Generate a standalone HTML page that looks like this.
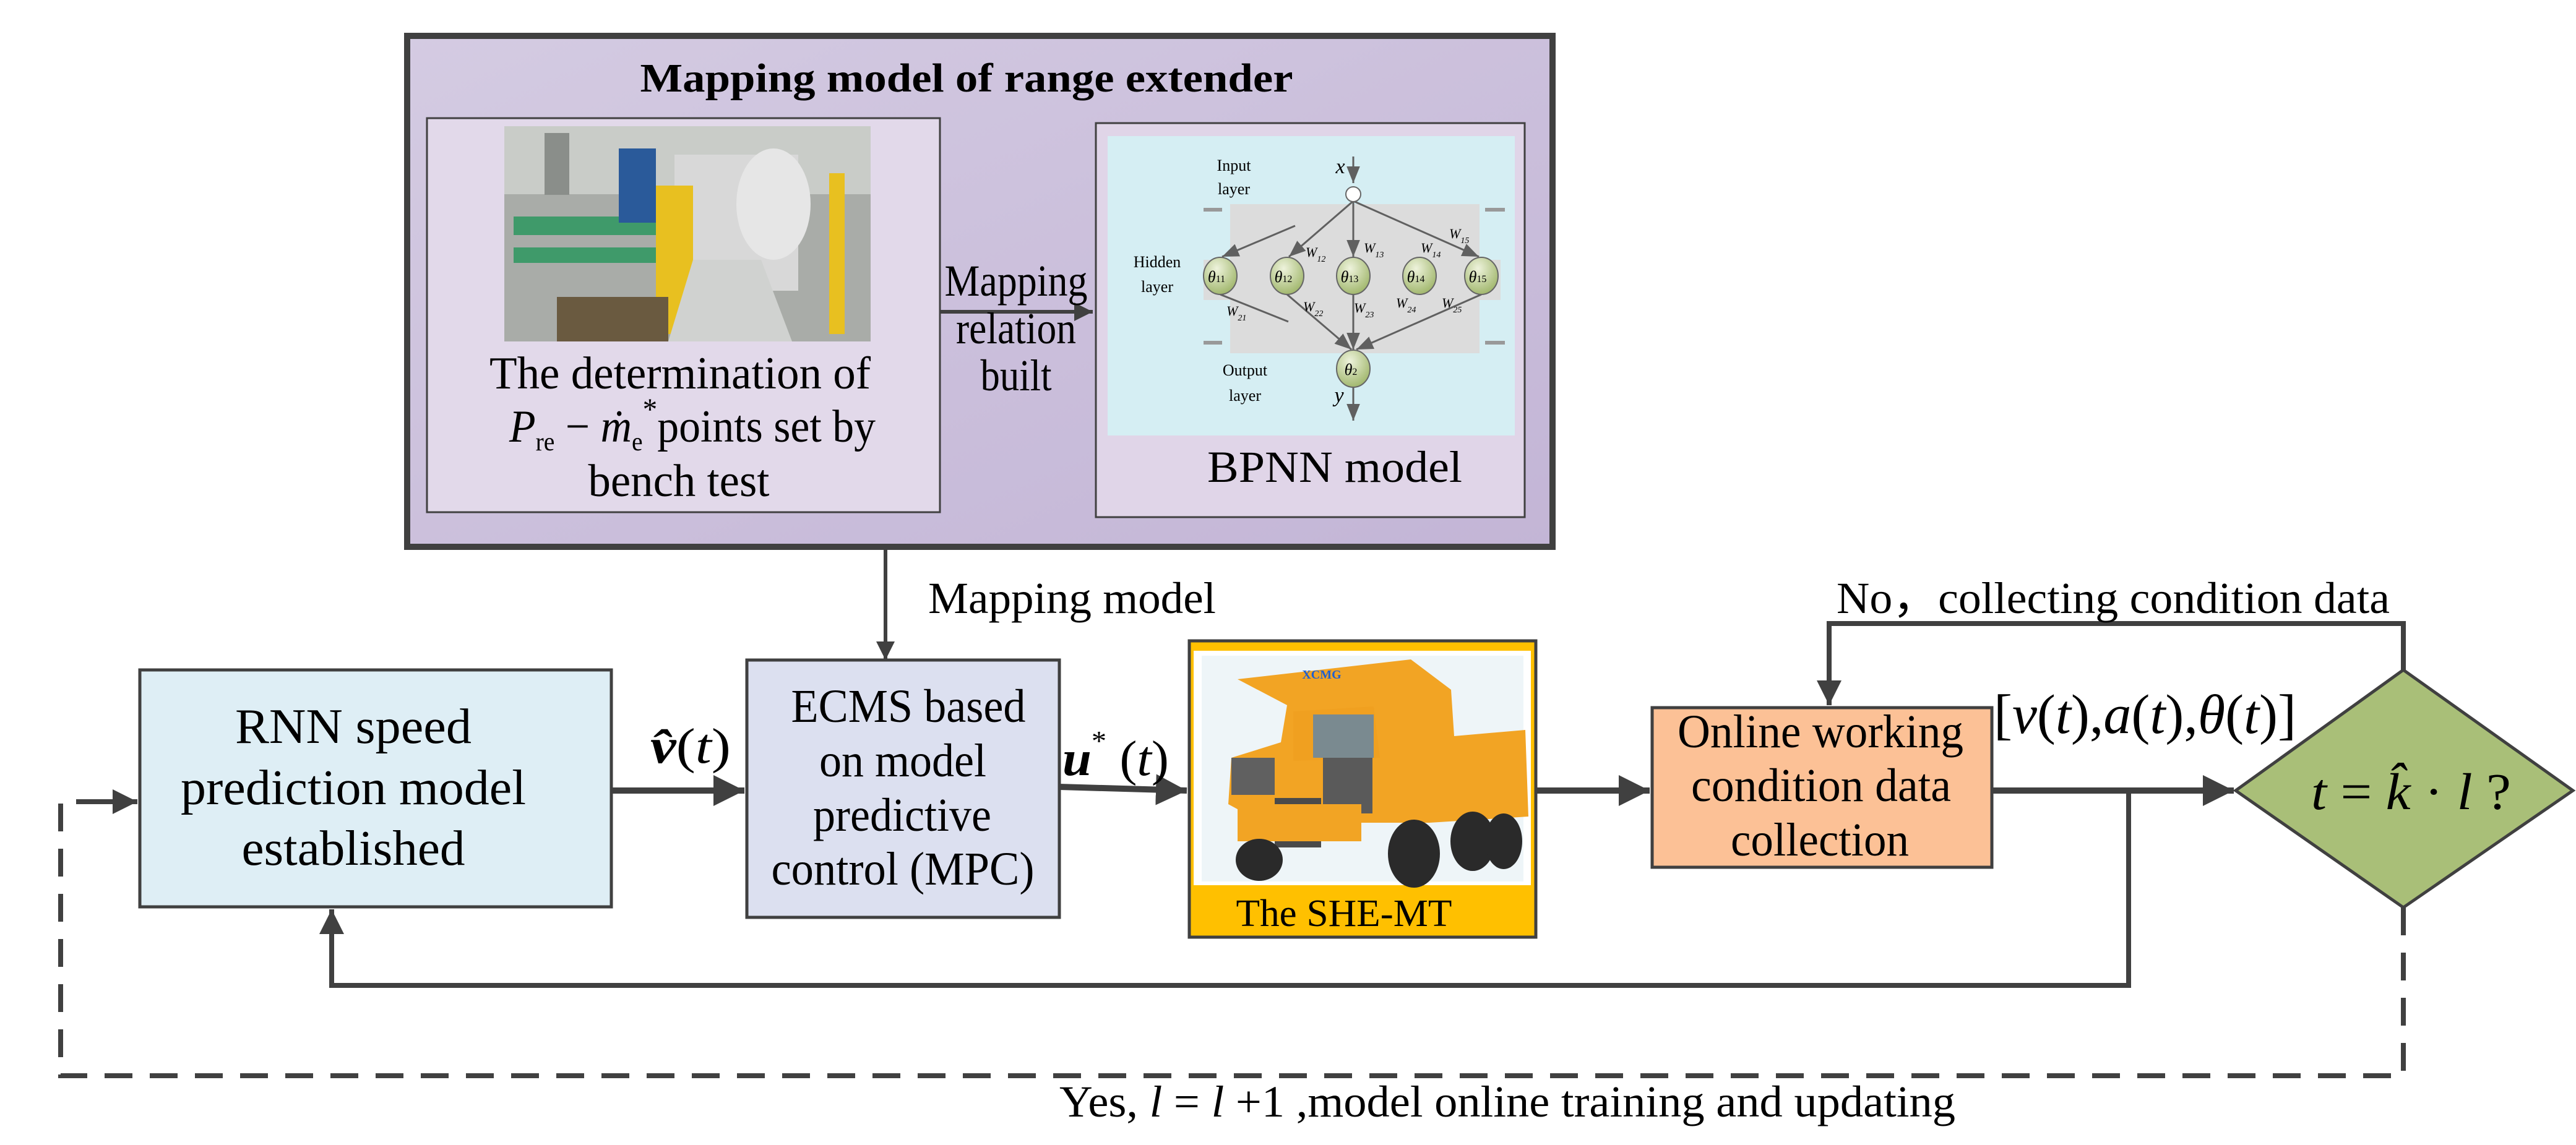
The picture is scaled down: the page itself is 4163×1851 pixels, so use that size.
<!DOCTYPE html>
<html><head><meta charset="utf-8"><style>html,body{margin:0;padding:0;background:#fff}svg{display:block}svg text{font-family:"Liberation Serif","Times New Roman",serif}</style></head>
<body>
<svg xmlns="http://www.w3.org/2000/svg" width="4163" height="1851" viewBox="0 0 4163 1851">
<defs>
<linearGradient id="pg" x1="0" y1="0" x2="1" y2="1"><stop offset="0" stop-color="#d4cbe2"/><stop offset="1" stop-color="#c3b5d6"/></linearGradient>
<radialGradient id="ng" cx="0.4" cy="0.3" r="0.8"><stop offset="0" stop-color="#eef3dc"/><stop offset="1" stop-color="#98b060"/></radialGradient>
<marker id="ah" viewBox="0 0 10 10" refX="10" refY="5" markerWidth="5" markerHeight="5" orient="auto" markerUnits="strokeWidth"><path d="M0,0 L10,5 L0,10 z" fill="#404040"/></marker>
<marker id="sa" viewBox="0 0 10 10" refX="10" refY="5" markerWidth="9" markerHeight="9" orient="auto" markerUnits="strokeWidth"><path d="M0,1 L10,5 L0,9 z" fill="#606060"/></marker>
</defs>

<rect x="658" y="58" width="1851" height="826" fill="url(#pg)" stroke="#404040" stroke-width="10"/>
<text x="1562" y="148" font-size="66" font-weight="bold" text-anchor="middle" textLength="1055" lengthAdjust="spacingAndGlyphs">Mapping model of range extender</text>

<rect x="690" y="191" width="829" height="637" fill="#e2d9ea" stroke="#404040" stroke-width="3"/>
<g>
<rect x="815" y="204" width="592" height="348" fill="#a9aca8"/>
<rect x="815" y="204" width="592" height="110" fill="#c9ccc8"/>
<rect x="880" y="215" width="40" height="100" fill="#8a8e8a"/>
<rect x="1090" y="250" width="200" height="220" fill="#d8d8d8"/>
<ellipse cx="1250" cy="330" rx="60" ry="90" fill="#e6e6e6"/>
<rect x="1060" y="300" width="60" height="240" fill="#e8c020"/>
<rect x="1340" y="280" width="25" height="260" fill="#e8c020"/>
<rect x="830" y="350" width="230" height="30" fill="#3f9a6a"/>
<rect x="830" y="400" width="230" height="25" fill="#3f9a6a"/>
<polygon points="1120,420 1230,420 1280,552 1080,552" fill="#d0d2d0"/>
<rect x="900" y="480" width="180" height="72" fill="#6a5a40"/>
<rect x="1000" y="240" width="60" height="120" fill="#2a5a9a"/>
</g>
<text x="1099" y="628" font-size="74" text-anchor="middle" textLength="616" lengthAdjust="spacingAndGlyphs">The determination of</text>
<text x="823" y="714" font-size="74" textLength="592" lengthAdjust="spacingAndGlyphs"><tspan font-style="italic">P</tspan><tspan font-size="42" dy="14">re</tspan><tspan dy="-14"> − </tspan><tspan font-style="italic">ṁ</tspan><tspan font-size="42" dy="14">e</tspan><tspan font-size="50" dy="-50">*</tspan><tspan dy="36">points set by</tspan></text>
<text x="1097" y="802" font-size="74" text-anchor="middle" textLength="293" lengthAdjust="spacingAndGlyphs">bench test</text>

<line x1="1519" y1="504" x2="1766" y2="504" stroke="#404040" stroke-width="6" marker-end="url(#ah)"/>
<text x="1642" y="478" font-size="72" text-anchor="middle" textLength="231" lengthAdjust="spacingAndGlyphs">Mapping</text>
<text x="1642" y="555" font-size="72" text-anchor="middle" textLength="194" lengthAdjust="spacingAndGlyphs">relation</text>
<text x="1642" y="631" font-size="72" text-anchor="middle" textLength="115" lengthAdjust="spacingAndGlyphs">built</text>

<rect x="1771" y="199" width="693" height="637" fill="#e0d5e8" stroke="#404040" stroke-width="3"/>
<rect x="1790" y="220" width="658" height="484" fill="#d5eef3"/>
<rect x="1988" y="330" width="403" height="241" fill="#dcdcdc"/>
<rect x="1945" y="420" width="480" height="65" fill="#dcdcdc"/>
<line x1="1945" y1="339" x2="1975" y2="339" stroke="#999" stroke-width="6"/>
<line x1="2400" y1="339" x2="2432" y2="339" stroke="#999" stroke-width="6"/>
<line x1="1945" y1="554" x2="1975" y2="554" stroke="#999" stroke-width="6"/>
<line x1="2400" y1="554" x2="2432" y2="554" stroke="#999" stroke-width="6"/>
<g stroke="#606060" stroke-width="3" fill="none">
<line x1="2187" y1="253" x2="2187" y2="296" marker-end="url(#sa)"/>
<line x1="2093" y1="365" x2="1975" y2="415" marker-end="url(#sa)"/>
<line x1="2187" y1="325" x2="2083" y2="415" marker-end="url(#sa)"/>
<line x1="2187" y1="325" x2="2187" y2="415" marker-end="url(#sa)"/>
<line x1="2187" y1="325" x2="2390" y2="415" marker-end="url(#sa)"/>
<line x1="1972" y1="476" x2="2082" y2="520"/>
<line x1="2080" y1="476" x2="2184" y2="565" marker-end="url(#sa)"/>
<line x1="2187" y1="476" x2="2187" y2="565" marker-end="url(#sa)"/>
<line x1="2394" y1="476" x2="2192" y2="565" marker-end="url(#sa)"/>
<line x1="2187" y1="626" x2="2187" y2="680" marker-end="url(#sa)"/>
</g>
<circle cx="2187" cy="314" r="12" fill="#fff" stroke="#666" stroke-width="2"/>
<g stroke="#666" stroke-width="2" fill="url(#ng)">
<ellipse cx="1972" cy="446" rx="27" ry="30"/><ellipse cx="2080" cy="446" rx="27" ry="30"/><ellipse cx="2187" cy="446" rx="27" ry="30"/><ellipse cx="2294" cy="446" rx="27" ry="30"/><ellipse cx="2394" cy="446" rx="27" ry="30"/><ellipse cx="2187" cy="596" rx="27" ry="30"/>
</g>
<g font-size="26" font-style="italic" text-anchor="middle">
<text x="1966" y="456">θ<tspan font-size="16" font-style="normal">11</tspan></text>
<text x="2074" y="456">θ<tspan font-size="16" font-style="normal">12</tspan></text>
<text x="2181" y="456">θ<tspan font-size="16" font-style="normal">13</tspan></text>
<text x="2288" y="456">θ<tspan font-size="16" font-style="normal">14</tspan></text>
<text x="2388" y="456">θ<tspan font-size="16" font-style="normal">15</tspan></text>
<text x="2183" y="606">θ<tspan font-size="16" font-style="normal">2</tspan></text>
<text x="2166" y="280" font-size="34">x</text>
<text x="2164" y="650" font-size="34">y</text>
</g>
<g font-size="22" font-style="italic">
<text x="2110" y="415">W<tspan font-size="14" dy="8">12</tspan></text>
<text x="2204" y="408">W<tspan font-size="14" dy="8">13</tspan></text>
<text x="2296" y="408">W<tspan font-size="14" dy="8">14</tspan></text>
<text x="2342" y="385">W<tspan font-size="14" dy="8">15</tspan></text>
<text x="1982" y="510">W<tspan font-size="14" dy="8">21</tspan></text>
<text x="2106" y="503">W<tspan font-size="14" dy="8">22</tspan></text>
<text x="2188" y="505">W<tspan font-size="14" dy="8">23</tspan></text>
<text x="2256" y="497">W<tspan font-size="14" dy="8">24</tspan></text>
<text x="2330" y="497">W<tspan font-size="14" dy="8">25</tspan></text>
</g>
<g font-size="26" text-anchor="middle">
<text x="1994" y="276">Input</text><text x="1994" y="314">layer</text>
<text x="1870" y="432">Hidden</text><text x="1870" y="472">layer</text>
<text x="2012" y="607">Output</text><text x="2012" y="648">layer</text>
</g>
<text x="2157" y="779" font-size="72" text-anchor="middle" textLength="412" lengthAdjust="spacingAndGlyphs">BPNN  model</text>

<line x1="1431" y1="884" x2="1431" y2="1067" stroke="#404040" stroke-width="6" marker-end="url(#ah)"/>
<text x="1500" y="991" font-size="72" textLength="465" lengthAdjust="spacingAndGlyphs">Mapping model</text>

<rect x="226" y="1083" width="762" height="383" fill="#deeef5" stroke="#404040" stroke-width="5"/>
<text x="571" y="1201" font-size="80" text-anchor="middle" textLength="382" lengthAdjust="spacingAndGlyphs">RNN speed</text>
<text x="571" y="1300" font-size="80" text-anchor="middle" textLength="558" lengthAdjust="spacingAndGlyphs">prediction model</text>
<text x="571" y="1398" font-size="80" text-anchor="middle" textLength="361" lengthAdjust="spacingAndGlyphs">established</text>

<rect x="1207" y="1067" width="505" height="416" fill="#dce0f0" stroke="#404040" stroke-width="5"/>
<text x="1468" y="1167" font-size="76" text-anchor="middle" textLength="379" lengthAdjust="spacingAndGlyphs">ECMS based</text>
<text x="1459" y="1255" font-size="76" text-anchor="middle" textLength="270" lengthAdjust="spacingAndGlyphs">on model</text>
<text x="1458" y="1343" font-size="76" text-anchor="middle" textLength="288" lengthAdjust="spacingAndGlyphs">predictive</text>
<text x="1459" y="1430" font-size="76" text-anchor="middle" textLength="425" lengthAdjust="spacingAndGlyphs">control (MPC)</text>

<line x1="988" y1="1278" x2="1203" y2="1278" stroke="#404040" stroke-width="10" marker-end="url(#ah)"/>
<text x="1051" y="1233" font-size="80" textLength="130" lengthAdjust="spacingAndGlyphs"><tspan font-weight="bold" font-style="italic">v̂</tspan>(<tspan font-style="italic">t</tspan>)</text>
<line x1="1712" y1="1272" x2="1918" y2="1278" stroke="#404040" stroke-width="10" marker-end="url(#ah)"/>
<text x="1717" y="1253" font-size="80" textLength="172" lengthAdjust="spacingAndGlyphs"><tspan font-weight="bold" font-style="italic">u</tspan><tspan font-size="46" dy="-40">*</tspan><tspan dy="40"> (</tspan><tspan font-style="italic">t</tspan>)</text>

<rect x="1922" y="1036" width="560" height="479" fill="#ffc000" stroke="#404040" stroke-width="5"/>
<rect x="1929" y="1052" width="545" height="379" fill="#fff"/>
<rect x="1942" y="1060" width="520" height="365" fill="#eef5f8"/>
<polygon points="2000,1098 2280,1066 2345,1115 2350,1190 2465,1180 2470,1320 2310,1330 2040,1330 1985,1300 1990,1225 2070,1200 2080,1140" fill="#f2a424"/>
<polygon points="2090,1150 2220,1142 2230,1225 2090,1230" fill="#f0a020"/>
<rect x="2122" y="1155" width="98" height="70" fill="#7a8a90"/>
<rect x="2138" y="1225" width="80" height="90" fill="#5a5a5a"/>
<rect x="2060" y="1290" width="75" height="80" fill="#4a4a4a"/>
<rect x="1990" y="1225" width="70" height="60" fill="#606060"/>
<rect x="2000" y="1300" width="200" height="60" fill="#f2a424"/>
<ellipse cx="2285" cy="1380" rx="42" ry="55" fill="#2a2a2a"/>
<ellipse cx="2380" cy="1360" rx="36" ry="48" fill="#2a2a2a"/>
<ellipse cx="2430" cy="1360" rx="30" ry="45" fill="#2a2a2a"/>
<ellipse cx="2035" cy="1390" rx="38" ry="34" fill="#2a2a2a"/>
<text x="2136" y="1097" font-size="20" font-weight="bold" fill="#1f5fd0" text-anchor="middle">XCMG</text>
<text x="2172" y="1497" font-size="62" text-anchor="middle" textLength="349" lengthAdjust="spacingAndGlyphs">The SHE-MT</text>

<line x1="2482" y1="1278" x2="2666" y2="1278" stroke="#404040" stroke-width="10" marker-end="url(#ah)"/>

<rect x="2670" y="1144" width="549" height="258" fill="#fcc196" stroke="#404040" stroke-width="5"/>
<text x="2942" y="1208" font-size="76" text-anchor="middle" textLength="462" lengthAdjust="spacingAndGlyphs">Online working</text>
<text x="2943" y="1295" font-size="76" text-anchor="middle" textLength="420" lengthAdjust="spacingAndGlyphs">condition data</text>
<text x="2941" y="1383" font-size="76" text-anchor="middle" textLength="288" lengthAdjust="spacingAndGlyphs">collection</text>

<line x1="3219" y1="1278" x2="3610" y2="1278" stroke="#404040" stroke-width="10" marker-end="url(#ah)"/>
<text x="3222" y="1185" font-size="90" textLength="489" lengthAdjust="spacingAndGlyphs">[<tspan font-style="italic">v</tspan>(<tspan font-style="italic">t</tspan>),<tspan font-style="italic">a</tspan>(<tspan font-style="italic">t</tspan>),<tspan font-style="italic">θ</tspan>(<tspan font-style="italic">t</tspan>)]</text>

<polygon points="3884,1083 4158,1278 3884,1467 3613,1278" fill="#a9bf78" stroke="#404040" stroke-width="5"/>
<text x="3735" y="1308" font-size="84" textLength="323" lengthAdjust="spacingAndGlyphs"><tspan font-style="italic">t</tspan> = <tspan font-style="italic">k̂</tspan> · <tspan font-style="italic">l</tspan>  ?</text>

<polyline points="3884,1083 3884,1008 2956,1008 2956,1140" fill="none" stroke="#404040" stroke-width="8" marker-end="url(#ah)"/>
<text x="2968" y="991" font-size="72" textLength="894" lengthAdjust="spacingAndGlyphs">No，collecting condition data</text>

<polyline points="3440,1278 3440,1593 536,1593 536,1470" fill="none" stroke="#404040" stroke-width="8" marker-end="url(#ah)"/>

<polyline points="3884,1467 3884,1739 98,1739 98,1296 150,1296" fill="none" stroke="#404040" stroke-width="8" stroke-dasharray="45,28"/>
<line x1="150" y1="1296" x2="222" y2="1296" stroke="#404040" stroke-width="8" marker-end="url(#ah)"/>
<text x="1712" y="1805" font-size="72" textLength="1448" lengthAdjust="spacingAndGlyphs">Yes,  <tspan font-style="italic">l</tspan> = <tspan font-style="italic">l</tspan> +1 ,model online training and updating</text>
</svg>
</body></html>
